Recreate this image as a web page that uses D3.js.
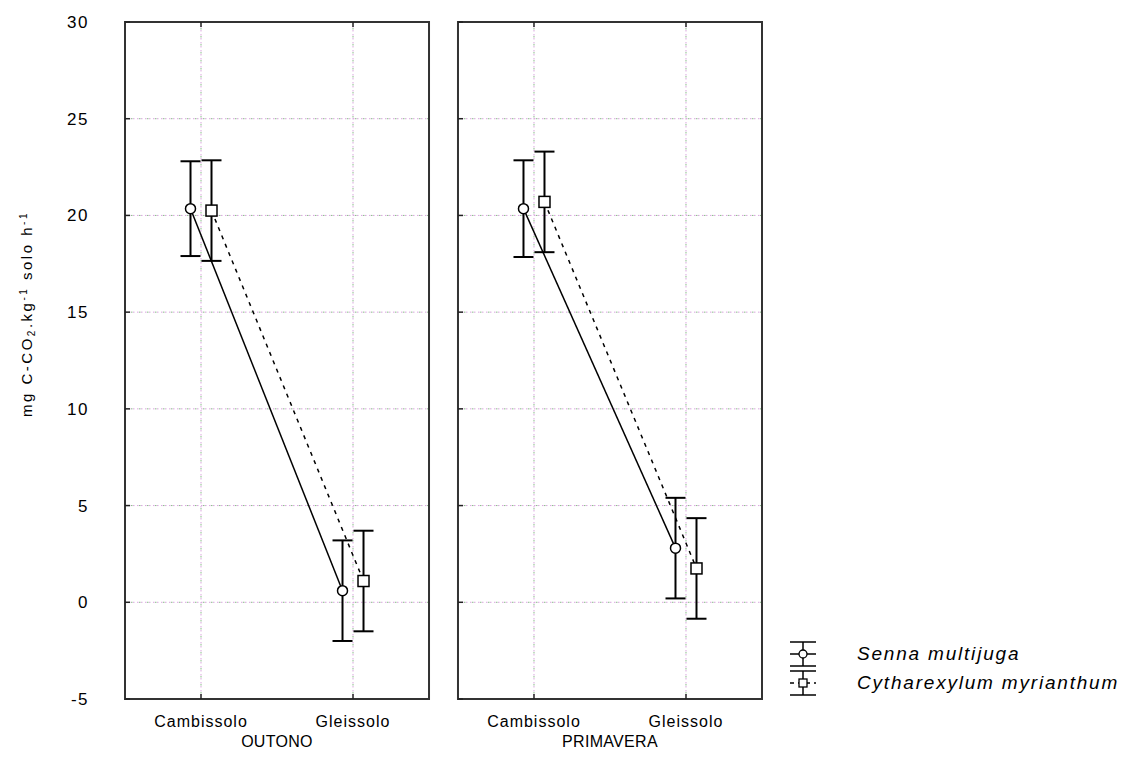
<!DOCTYPE html>
<html>
<head>
  <meta charset="utf-8">
  <title>Respiração do solo</title>
  <script src="https://d3js.org/d3.v7.min.js"></script>
  <style>
    body { margin: 0; background: #fff; }
    text { font-family: "Liberation Sans", Arial, sans-serif; fill: #000; }
  </style>
</head>
<body>
<div id="chart"></div>

<script type="text/javascript">
  // dados (média e meio intervalo de confiança)
  const seasons = ['OUTONO', 'PRIMAVERA'];
  const soils = ['Cambissolo', 'Gleissolo'];
  const species = ['Senna multijuga', 'Cytharexylum myrianthum'];
  const yTicks = [-5, 0, 5, 10, 15, 20, 25, 30];

  // [estação][solo]
  const meanSenna = [[20.35, 0.6], [20.35, 2.8]];
  const ciSenna   = [[2.45, 2.6], [2.5, 2.6]];
  const meanCyth  = [[20.25, 1.1], [20.7, 1.75]];
  const ciCyth    = [[2.6, 2.6], [2.6, 2.6]];

  const W = 1148, H = 760;
  const plot = {left: 125, right: 762, top: 22, bottom: 699};

  const svg = d3.select('#chart').append('svg')
      .attr('width', W)
      .attr('height', H);

  const rows = [];
  seasons.forEach((s, i) => soils.forEach((soil, j) => {
    rows.push({season: s, soil: soil, sp: species[0], mean: meanSenna[i][j], ci: ciSenna[i][j]});
    rows.push({season: s, soil: soil, sp: species[1], mean: meanCyth[i][j], ci: ciCyth[i][j]});
  }));

  const panelScale = d3.scaleBand()
      .domain(seasons)
      .range([plot.left, plot.right])
      .paddingInner(0.087)
      .paddingOuter(0);
  const pw = panelScale.bandwidth();

  const xScale = d3.scalePoint()
      .domain(soils)
      .range([0, pw])
      .padding(0.5);

  const offScale = d3.scalePoint()
      .domain(species)
      .range([-10.5, 10.5]);

  const yScale = d3.scaleLinear()
      .domain([-5, 30])
      .range([plot.bottom, plot.top]);

  const ph = plot.bottom - plot.top;

  function dotted(sel) {
    // linhas pontilhadas rosa e verde como no original
    sel.clone().attr('stroke', '#d9a6de').attr('stroke-dasharray', '1.5,2.5');
    sel.attr('stroke', '#88bb88').attr('stroke-dasharray', '1.5,6.5').attr('stroke-dashoffset', 2);
  }

  seasons.forEach(season => {
    const g = svg.append('g')
        .attr('transform', `translate(${panelScale(season)},0)`);

    // grade
    yTicks.filter(t => t > -5 && t < 30).forEach(t => {
      g.append('line')
        .attr('x1', 0).attr('x2', pw)
        .attr('y1', yScale(t)).attr('y2', yScale(t))
        .attr('stroke-width', 1)
        .call(dotted);
    });
    soils.forEach(soil => {
      g.append('line')
        .attr('x1', xScale(soil)).attr('x2', xScale(soil))
        .attr('y1', plot.top).attr('y2', plot.bottom)
        .attr('stroke-width', 1)
        .call(dotted);
    });

    const data = rows.filter(r => r.season === season);

    // linhas entre solos
    species.forEach((sp, k) => {
      const pts = data.filter(r => r.sp === sp);
      g.append('path')
        .datum(pts)
        .attr('fill', 'none')
        .attr('stroke', '#000')
        .attr('stroke-width', 1.5)
        .attr('stroke-dasharray', k === 0 ? null : '4,5')
        .attr('d', d3.line()
          .x(d => xScale(d.soil) + offScale(d.sp))
          .y(d => yScale(d.mean)));
    });

    // barras de erro
    const eb = g.selectAll('g.eb')
      .data(data)
      .enter().append('g')
        .attr('class', 'eb')
        .attr('transform', d => `translate(${xScale(d.soil) + offScale(d.sp)},0)`);
    eb.append('line')
      .attr('y1', d => yScale(d.mean + d.ci))
      .attr('y2', d => yScale(d.mean - d.ci))
      .attr('stroke', '#000').attr('stroke-width', 2);
    eb.append('line')
      .attr('x1', -10).attr('x2', 10)
      .attr('y1', d => yScale(d.mean + d.ci)).attr('y2', d => yScale(d.mean + d.ci))
      .attr('stroke', '#000').attr('stroke-width', 2);
    eb.append('line')
      .attr('x1', -10).attr('x2', 10)
      .attr('y1', d => yScale(d.mean - d.ci)).attr('y2', d => yScale(d.mean - d.ci))
      .attr('stroke', '#000').attr('stroke-width', 2);

    eb.filter(d => d.sp === species[0]).append('circle')
      .attr('cy', d => yScale(d.mean))
      .attr('r', 5)
      .attr('fill', '#fff').attr('stroke', '#000').attr('stroke-width', 1.5);
    eb.filter(d => d.sp === species[1]).append('rect')
      .attr('x', -5.5).attr('y', d => yScale(d.mean) - 5.5)
      .attr('width', 11).attr('height', 11)
      .attr('fill', '#fff').attr('stroke', '#000').attr('stroke-width', 1.5);

    // moldura
    g.append('rect')
      .attr('x', 0).attr('y', plot.top)
      .attr('width', pw).attr('height', ph)
      .attr('fill', 'none')
      .attr('stroke', '#333').attr('stroke-width', 2);

    // marcas dos eixos (para dentro)
    yTicks.forEach(t => {
      g.append('line')
        .attr('x1', 0).attr('x2', 5)
        .attr('y1', yScale(t)).attr('y2', yScale(t))
        .attr('stroke', '#222').attr('stroke-width', 1.5);
    });
    soils.forEach(soil => {
      g.append('line')
        .attr('x1', xScale(soil)).attr('x2', xScale(soil))
        .attr('y1', plot.bottom).attr('y2', plot.bottom - 5)
        .attr('stroke', '#222').attr('stroke-width', 1.5);
      g.append('line')
        .attr('x1', xScale(soil)).attr('x2', xScale(soil))
        .attr('y1', plot.top).attr('y2', plot.top + 5)
        .attr('stroke', '#222').attr('stroke-width', 1.5);
      g.append('text')
        .attr('x', xScale(soil))
        .attr('y', plot.bottom + 28)
        .attr('text-anchor', 'middle')
        .attr('font-size', '16px')
        .attr('letter-spacing', '1px')
        .text(soil);
    });

    g.append('text')
      .attr('x', pw / 2)
      .attr('y', plot.bottom + 48)
      .attr('text-anchor', 'middle')
      .attr('font-size', '16px')
      .attr('letter-spacing', '0.3px')
      .text(season);
  });

  // rótulos do eixo y
  svg.selectAll('text.ytick')
    .data(yTicks)
    .enter().append('text')
      .attr('class', 'ytick')
      .attr('x', 89)
      .attr('y', d => yScale(d) + 6)
      .attr('text-anchor', 'end')
      .attr('font-size', '17px')
      .attr('letter-spacing', '1.5px')
      .text(d => d);

  const yl = svg.append('text')
    .attr('transform', `translate(32, 314) rotate(-90)`)
    .attr('text-anchor', 'middle')
    .attr('font-size', '15px')
    .attr('letter-spacing', '2.5px');
  yl.append('tspan').text('mg C-CO');
  yl.append('tspan').attr('font-size', '10px').attr('dy', 3).text('2');
  yl.append('tspan').attr('dy', -3).text('.kg');
  yl.append('tspan').attr('font-size', '10px').attr('dy', -5).text('-1');
  yl.append('tspan').attr('dy', 5).text(' solo h');
  yl.append('tspan').attr('font-size', '10px').attr('dy', -5).text('-1');

  // legenda
  const leg = svg.append('g').attr('transform', 'translate(803,0)');
  species.forEach((sp, k) => {
    const cy = 654 + k * 29;
    const lg = leg.append('g').attr('transform', `translate(0,${cy})`);
    [-12, 0, 12].forEach(dy => {
      lg.append('line')
        .attr('x1', -13).attr('x2', 13)
        .attr('y1', dy).attr('y2', dy)
        .attr('stroke', '#000').attr('stroke-width', 1.5)
        .attr('stroke-dasharray', dy === 0 && k === 1 ? '4,4' : null);
    });
    lg.append('line')
      .attr('y1', -12).attr('y2', 12)
      .attr('stroke', '#000').attr('stroke-width', 1.5);
    if (k === 0) {
      lg.append('circle').attr('r', 4)
        .attr('fill', '#fff').attr('stroke', '#000').attr('stroke-width', 1.3);
    } else {
      lg.append('rect').attr('x', -4).attr('y', -4).attr('width', 8).attr('height', 8)
        .attr('fill', '#fff').attr('stroke', '#000').attr('stroke-width', 1.3);
    }
    leg.append('text')
      .attr('x', 54)
      .attr('y', cy + 6)
      .attr('font-size', '19px')
      .attr('font-style', 'italic')
      .attr('letter-spacing', '1.8px')
      .text(sp);
  });
</script>
</body>
</html>
